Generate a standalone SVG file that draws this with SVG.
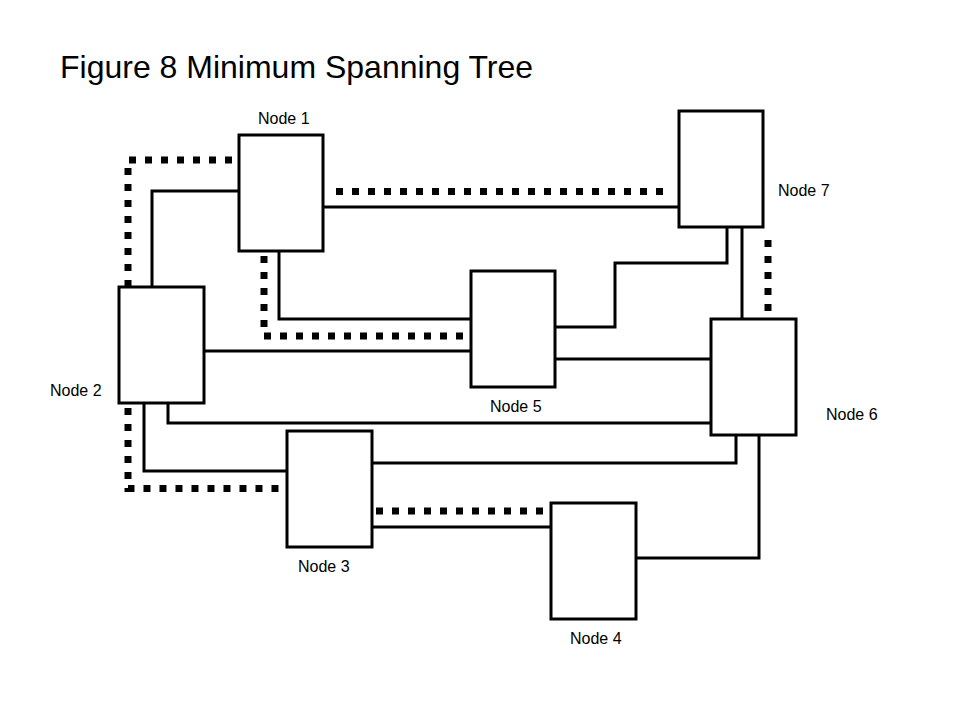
<svg xmlns="http://www.w3.org/2000/svg" width="960" height="720" viewBox="0 0 960 720">
<style>
.box{fill:#fff;stroke:#000;stroke-width:3}
.ln{fill:none;stroke:#000;stroke-width:3}
.dot{fill:none;stroke:#000;stroke-width:7;stroke-dasharray:7 9}
.lbl{font-family:"Liberation Sans",Arial,sans-serif;font-size:16px;fill:#000}
.title{font-family:"Liberation Sans",Arial,sans-serif;font-size:32px;fill:#000}
</style>
<rect width="960" height="720" fill="#fff"/>
<text class="title" x="60" y="78">Figure 8 Minimum Spanning Tree</text>
<g id="connectors">
<path class="ln" d="M239 191 H152 V287"/>
<path class="ln" d="M323 207 H679"/>
<path class="ln" d="M279 251 V319 H471"/>
<path class="ln" d="M204 351 H471"/>
<path class="ln" d="M168 403 V423 H711"/>
<path class="ln" d="M144 403 V471 H287"/>
<path class="ln" d="M555 327 H615 V263 H727 V227"/>
<path class="ln" d="M742 227 V319"/>
<path class="ln" d="M555 359 H711"/>
<path class="ln" d="M372 463 H736 V435"/>
<path class="ln" d="M759 435 V558 H636"/>
<path class="ln" d="M372 527 H551"/>
<path class="dot" d="M232 160 H128 V287"/>
<path class="dot" d="M264 256 V336 H468"/>
<path class="dot" d="M336 191.5 H666"/>
<path class="dot" d="M128 408 V488.5 H282"/>
<path class="dot" d="M376 511 H548"/>
<path class="dot" d="M768 240 V312"/>
</g>
<g id="node1"><rect class="box" x="239" y="135" width="84" height="116"/><text class="lbl" x="258" y="124">Node 1</text></g>
<g id="node2"><rect class="box" x="119" y="287" width="85" height="116"/><text class="lbl" x="50" y="396">Node 2</text></g>
<g id="node3"><rect class="box" x="287" y="431" width="85" height="116"/><text class="lbl" x="298" y="572">Node 3</text></g>
<g id="node4"><rect class="box" x="551" y="503" width="85" height="116"/><text class="lbl" x="570" y="644">Node 4</text></g>
<g id="node5"><rect class="box" x="471" y="271" width="84" height="116"/><text class="lbl" x="490" y="412">Node 5</text></g>
<g id="node6"><rect class="box" x="711" y="319" width="85" height="116"/><text class="lbl" x="826" y="420">Node 6</text></g>
<g id="node7"><rect class="box" x="679" y="111" width="84" height="116"/><text class="lbl" x="778" y="196">Node 7</text></g>
</svg>
